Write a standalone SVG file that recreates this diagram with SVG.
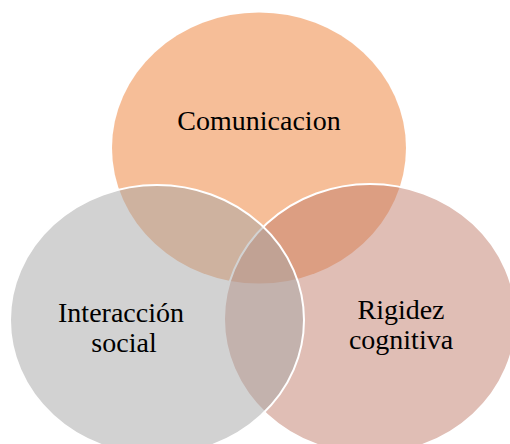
<svg xmlns="http://www.w3.org/2000/svg" width="510" height="444" viewBox="0 0 510 444">
  <style>
    .label { font-family: "Liberation Serif", "Times New Roman", serif; font-size: 28px; fill: #000000; text-anchor: middle; }
    .set { fill-opacity: 0.5; }
    .edge { stroke: #ffffff; stroke-width: 2; }
  </style>
  <rect width="510" height="444" fill="#ffffff"/>
  <!-- Venn sets: drawn top, right, then left so the blends stack correctly -->
  <g id="comunicacion">
    <ellipse class="set" cx="259" cy="148" rx="147" ry="135.5" fill="#ED7D31"/>
    <text class="label" x="259" y="129.5">Comunicacion</text>
  </g>
  <g id="rigidez-cognitiva">
    <ellipse class="set edge" cx="370" cy="319" rx="146" ry="135" fill="#C27E6C"/>
    <text class="label" x="401" y="318.5">Rigidez</text>
    <text class="label" x="401" y="348.5">cognitiva</text>
  </g>
  <g id="interaccion-social">
    <ellipse class="set edge" cx="157" cy="320" rx="147" ry="135" fill="#A5A5A5"/>
    <text class="label" x="121" y="321.5">Interacción</text>
    <text class="label" x="124" y="352">social</text>
  </g>
</svg>
